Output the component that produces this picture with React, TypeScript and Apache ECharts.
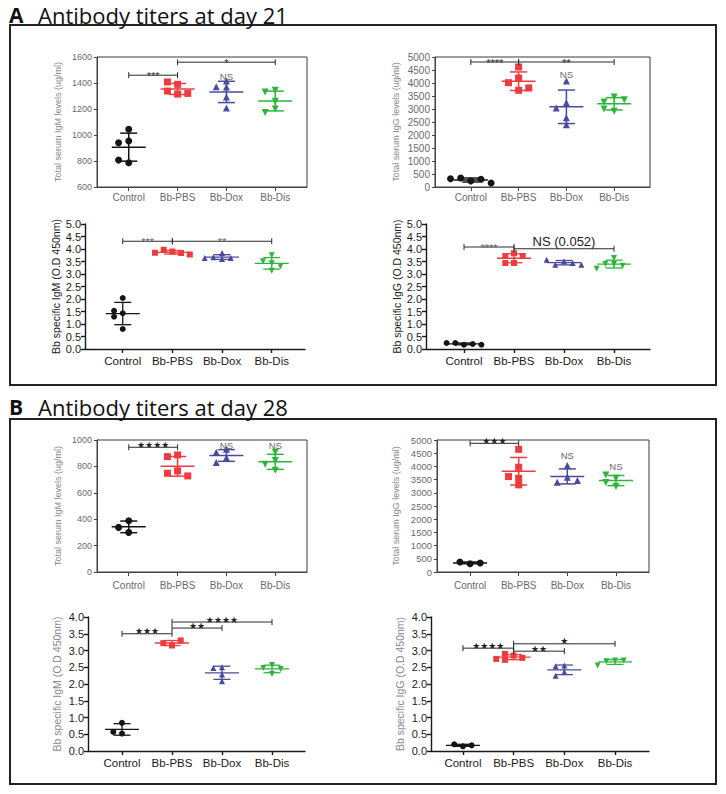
import React, { useEffect, useRef } from "react";
import * as echarts from "echarts";

const CATEGORIES = ["Control", "Bb-PBS", "Bb-Dox", "Bb-Dis"];
const GROUP_COLORS = ["#151515", "#ef3b3f", "#4a4a9e", "#2cb53a"];
const GROUP_SYMBOLS = ["circle", "rect", "triangle", "triangle"];
const GROUP_ROTATE = [0, 0, 0, 180];

// ---- Day 21 ----
const day21_totalIgM = [
  [954, 940, 1044, 787, 807],
  [1315, 1390, 1338, 1408, 1320],
  [1369, 1415, 1292, 1372, 1208],
  [1344, 1331, 1259, 1200, 1174],
];
const day21_totalIgM_sig = [
  { from: 1, to: 2, y: 1460, label: "***" },
  { from: 2, to: 4, y: 1560, label: "*" },
];
const day21_totalIgM_ns = [{ cat: 3, y: 1450, label: "NS" }];

const day21_totalIgG = [
  [230, 345, 295, 320, 155],
  [3718, 4615, 4192, 4013, 3808],
  [3244, 4077, 3038, 2667, 2397],
  [3462, 2910, 3269, 3359, 3000],
];
const day21_totalIgG_sig = [
  { from: 1, to: 2, y: 4808, label: "****" },
  { from: 2, to: 4, y: 4808, label: "**" },
];
const day21_totalIgG_ns = [{ cat: 3, y: 4330, label: "NS" }];

const day21_bbIgM = [
  [2.04, 1.43, 1.53, 1.29, 0.8],
  [3.9, 3.97, 3.84, 3.85, 3.78],
  [3.6, 3.67, 3.84, 3.64, 3.64],
  [3.75, 3.43, 3.51, 3.31, 3.13],
];
const day21_bbIgM_sig = [
  { from: 1, to: 2, y: 4.31, label: "***" },
  { from: 2, to: 4, y: 4.31, label: "**" },
];

const day21_bbIgG = [
  [0.17, 0.24, 0.2, 0.24, 0.17],
  [3.83, 3.72, 3.72, 3.44, 3.44],
  [3.51, 3.37, 3.44, 3.57, 3.37],
  [3.64, 3.4, 3.4, 3.33, 3.21],
];
const day21_bbIgG_sig = [
  { from: 1, to: 2, y: 4.08, label: "****" },
  { from: 2, to: 4, y: 4.01, label: "NS (0.052)" },
];

// ---- Day 28 ----
const day28_totalIgM = [
  [300, 388, 338],
  [887, 874, 766, 748, 728],
  [929, 866, 829, 907],
  [907, 844, 816, 771],
];
const day28_totalIgM_sig = [{ from: 1, to: 2, y: 945, label: "★★★★" }];
const day28_totalIgM_ns = [
  { cat: 3, y: 962, label: "NS" },
  { cat: 4, y: 955, label: "NS" },
];

const day28_totalIgG = [
  [315, 380, 340],
  [4647, 3967, 3552, 3615, 3300],
  [4030, 3590, 3400, 3463],
  [3237, 3552, 3678, 3388],
];
const day28_totalIgG_sig = [{ from: 1, to: 2, y: 4874, label: "★★★" }];
const day28_totalIgG_ns = [
  { cat: 3, y: 4400, label: "NS" },
  { cat: 4, y: 4000, label: "NS" },
];

const day28_bbIgM = [
  [0.84, 0.52, 0.57],
  [3.15, 3.22, 3.3],
  [2.5, 2.48, 2.28, 2.08],
  [2.57, 2.48, 2.45, 2.3],
];
const day28_bbIgM_sig = [
  { from: 1, to: 2, y: 3.5, label: "★★★" },
  { from: 2, to: 3, y: 3.67, label: "★★" },
  { from: 2, to: 4, y: 3.85, label: "★★★★" },
];

const day28_bbIgG = [
  [0.14, 0.2, 0.17],
  [2.85, 2.72, 2.78, 2.9, 2.75],
  [2.55, 2.53, 2.36, 2.25],
  [2.7, 2.68, 2.7, 2.55],
];
const day28_bbIgG_sig = [
  { from: 1, to: 2, y: 3.07, label: "★★★★" },
  { from: 2, to: 3, y: 2.98, label: "★★" },
  { from: 2, to: 4, y: 3.2, label: "★" },
];

type Sig = { from: number; to: number; y: number; label: string };
type NS = { cat: number; y: number; label: string };

const AXIS_FONT = '"Liberation Sans", Arial, sans-serif';

const PANELS = [
  { data: day21_totalIgM, sig: day21_totalIgM_sig, ns: day21_totalIgM_ns, name: "Total serum IgM levels (ug/ml)",
    left: 97, top: 57, width: 210, height: 130, xMin: 0.35, xMax: 4.65, yMin: 600, yMax: 1600, yInt: 200,
    framed: true, nameGap: 35, tickFont: 9, dec: 0, xMargin: 5, sym: 7, starGray: false },
  { data: day21_totalIgG, sig: day21_totalIgG_sig, ns: day21_totalIgG_ns, name: "Total serum IgG levels (ug/ml)",
    left: 435, top: 57, width: 215, height: 130, xMin: 0.25, xMax: 4.75, yMin: 0, yMax: 5000, yInt: 500,
    framed: true, nameGap: 35, tickFont: 10, dec: 0, xMargin: 5, sym: 7, starGray: false },
  { data: day21_bbIgM, sig: day21_bbIgM_sig, ns: [] as NS[], name: "Bb specific IgM (O.D 450nm)",
    left: 85, top: 224, width: 220, height: 125, xMin: 0.24, xMax: 4.67, yMin: 0, yMax: 5, yInt: 0.5,
    framed: false, nameGap: 22, tickFont: 11, dec: 1, xMargin: 6, sym: 6, starGray: true, darkName: true },
  { data: day21_bbIgG, sig: day21_bbIgG_sig, ns: [] as NS[], name: "Bb specific IgG (O.D 450nm)",
    left: 426, top: 224, width: 224, height: 125, xMin: 0.24, xMax: 4.72, yMin: 0, yMax: 5, yInt: 0.5,
    framed: false, nameGap: 21, tickFont: 11, dec: 1, xMargin: 6, sym: 6, starGray: true, darkName: true },
  { data: day28_totalIgM, sig: day28_totalIgM_sig, ns: day28_totalIgM_ns, name: "Total serum IgM levels (ug/ml)",
    left: 97, top: 440, width: 210, height: 132, xMin: 0.35, xMax: 4.65, yMin: 0, yMax: 1000, yInt: 200,
    framed: true, nameGap: 35, tickFont: 9, dec: 0, xMargin: 8, sym: 7, starGray: false },
  { data: day28_totalIgG, sig: day28_totalIgG_sig, ns: day28_totalIgG_ns, name: "Total serum IgG levels (ug/ml)",
    left: 437, top: 440, width: 212, height: 132, xMin: 0.32, xMax: 4.68, yMin: 0, yMax: 5000, yInt: 500,
    framed: true, nameGap: 37, tickFont: 9.5, dec: 0, xMargin: 8, sym: 7, starGray: false },
  { data: day28_bbIgM, sig: day28_bbIgM_sig, ns: [] as NS[], name: "Bb specific IgM (O.D 450nm)",
    left: 88, top: 617, width: 217, height: 134, xMin: 0.32, xMax: 4.66, yMin: 0, yMax: 4, yInt: 0.5,
    framed: false, nameGap: 26, tickFont: 11, dec: 1, xMargin: 6, sym: 6, starGray: false, darkName: false },
  { data: day28_bbIgG, sig: day28_bbIgG_sig, ns: [] as NS[], name: "Bb specific IgG (O.D 450nm)",
    left: 431, top: 617, width: 218, height: 134, xMin: 0.37, xMax: 4.67, yMin: 0, yMax: 4, yInt: 0.5,
    framed: false, nameGap: 26, tickFont: 11, dec: 1, xMargin: 6, sym: 6, starGray: false, darkName: false },
];

function meanSd(v: number[]) {
  const m = v.reduce((a, b) => a + b, 0) / v.length;
  const s = Math.sqrt(v.reduce((a, b) => a + (b - m) * (b - m), 0) / (v.length - 1));
  return [m, s];
}

// simple beeswarm: offsets in pixels
function swarm(vals: number[], pxPerY: number, step: number, thr: number) {
  const placed: { x: number; y: number }[] = [];
  const cands = [0, -step, step, -2 * step, 2 * step, -3 * step, 3 * step];
  return vals.map((v) => {
    const y = v * pxPerY;
    for (const c of cands) {
      if (placed.every((p) => Math.abs(p.x - c) >= step * 0.9 || Math.abs(p.y - y) >= thr)) {
        placed.push({ x: c, y });
        return c;
      }
    }
    placed.push({ x: 0, y });
    return 0;
  });
}

function buildOption() {
  const grid: any[] = [];
  const xAxis: any[] = [];
  const yAxis: any[] = [];
  const series: any[] = [];

  PANELS.forEach((p, i) => {
    const axisColor = p.framed ? "#444" : "#1a1a1a";
    const labelColor = p.framed ? "#6a6a6a" : "#1a1a1a";
    grid.push({
      left: p.left, top: p.top, width: p.width, height: p.height,
      show: p.framed, borderColor: "#3a3a3a", borderWidth: 1, backgroundColor: "transparent",
    });
    xAxis.push({
      gridIndex: i, type: "value", min: p.xMin, max: p.xMax,
      axisLine: { show: true, onZero: false, lineStyle: { color: axisColor, width: p.framed ? 1 : 1.4 } },
      axisTick: { show: true, customValues: [1, 2, 3, 4], length: 4, lineStyle: { color: axisColor, width: p.framed ? 1 : 1.4 } },
      axisLabel: {
        customValues: [1, 2, 3, 4],
        formatter: (v: number) => CATEGORIES[Math.round(v) - 1] ?? "",
        color: labelColor, fontSize: p.framed ? 10 : 11.5, fontFamily: AXIS_FONT, margin: p.xMargin,
      },
      splitLine: { show: false },
    });
    yAxis.push({
      gridIndex: i, type: "value", min: p.yMin, max: p.yMax, interval: p.yInt,
      axisLine: { show: true, onZero: false, lineStyle: { color: axisColor, width: p.framed ? 1 : 1.4 } },
      axisTick: { show: true, length: p.framed ? 3 : 4, lineStyle: { color: axisColor, width: p.framed ? 1 : 1.4 } },
      axisLabel: {
        formatter: (v: number) => (p.dec ? v.toFixed(1) : String(v)),
        color: labelColor, fontSize: p.tickFont, fontFamily: AXIS_FONT, margin: p.framed ? 5 : 4,
      },
      splitLine: { show: false },
      name: p.name, nameLocation: "middle", nameGap: p.nameGap,
      nameTextStyle: {
        fontSize: p.framed ? 9 : 10.5, fontFamily: AXIS_FONT,
        color: p.framed ? "#8a8a8a" : (p as any).darkName ? "#1a1a1a" : "#8a8a8a",
      },
    });

    const pxPerY = p.height / (p.yMax - p.yMin);
    const pxPerX = p.width / (p.xMax - p.xMin);
    const step = p.sym * 1.45;

    p.data.forEach((vals, g) => {
      const offs = swarm(vals, pxPerY, step, p.sym * 0.85);
      series.push({
        type: "scatter", xAxisIndex: i, yAxisIndex: i, silent: true, z: 4,
        symbol: GROUP_SYMBOLS[g], symbolRotate: GROUP_ROTATE[g], symbolSize: p.sym,
        itemStyle: { color: GROUP_COLORS[g], opacity: 1 },
        data: vals.map((v, k) => [g + 1 + offs[k] / pxPerX, v]),
      });
    });

    const stats = p.data.map((vals, g) => {
      const [m, s] = meanSd(vals);
      return [g + 1, m, s];
    });
    const lw = p.framed ? 1.5 : 1.3;
    series.push({
      type: "custom", xAxisIndex: i, yAxisIndex: i, silent: true, z: 3,
      data: stats,
      renderItem: (params: any, api: any) => {
        const x = api.value(0), m = api.value(1), s = api.value(2);
        const c = api.coord([x, m]);
        const t = api.coord([x, m + s]);
        const b = api.coord([x, m - s]);
        const col = GROUP_COLORS[params.dataIndex];
        const w = 17, cw = 8.5;
        const st = { stroke: col, lineWidth: lw };
        return {
          type: "group",
          children: [
            { type: "line", shape: { x1: c[0] - w, y1: c[1], x2: c[0] + w, y2: c[1] }, style: st },
            { type: "line", shape: { x1: c[0], y1: t[1], x2: c[0], y2: b[1] }, style: st },
            { type: "line", shape: { x1: c[0] - cw, y1: t[1], x2: c[0] + cw, y2: t[1] }, style: st },
            { type: "line", shape: { x1: c[0] - cw, y1: b[1], x2: c[0] + cw, y2: b[1] }, style: st },
          ],
        };
      },
    });

    const sigs: Sig[] = p.sig;
    series.push({
      type: "custom", xAxisIndex: i, yAxisIndex: i, silent: true, z: 5,
      data: sigs.map((s) => [s.from, s.to, s.y]),
      renderItem: (params: any, api: any) => {
        const s = sigs[params.dataIndex];
        const a = api.coord([api.value(0), api.value(2)]);
        const b = api.coord([api.value(1), api.value(2)]);
        const y = a[1];
        const ls = { stroke: "#2a2a2a", lineWidth: 1 };
        const isStar = s.label.indexOf("★") >= 0;
        const isNS = s.label.indexOf("NS") >= 0;
        const text = isNS
          ? { text: s.label, x: (a[0] + b[0]) / 2, y: y - 7, textAlign: "center", textVerticalAlign: "middle",
              fill: "#1a1a1a", fontSize: 13, fontFamily: AXIS_FONT }
          : isStar
          ? { text: s.label, x: (a[0] + b[0]) / 2, y: y - 2.5, textAlign: "center", textVerticalAlign: "middle",
              fill: "#222", fontSize: 9, fontFamily: '"DejaVu Sans", sans-serif' }
          : { text: s.label, x: (a[0] + b[0]) / 2, y: y + 1, textAlign: "center", textVerticalAlign: "middle",
              fill: p.starGray ? "#666" : "#333", fontSize: 11, fontFamily: AXIS_FONT };
        return {
          type: "group",
          children: [
            { type: "line", shape: { x1: a[0], y1: y, x2: b[0], y2: y }, style: ls },
            { type: "line", shape: { x1: a[0], y1: y - 3, x2: a[0], y2: y + 3 }, style: ls },
            { type: "line", shape: { x1: b[0], y1: y - 3, x2: b[0], y2: y + 3 }, style: ls },
            { type: "text", style: text },
          ],
        };
      },
    });

    const nss: NS[] = p.ns;
    if (nss.length) {
      series.push({
        type: "custom", xAxisIndex: i, yAxisIndex: i, silent: true, z: 5,
        data: nss.map((n) => [n.cat, n.y]),
        renderItem: (params: any, api: any) => {
          const n = nss[params.dataIndex];
          const c = api.coord([api.value(0), api.value(1)]);
          return {
            type: "text",
            style: { text: n.label, x: c[0], y: c[1], textAlign: "center", textVerticalAlign: "middle",
              fill: "#666", fontSize: 9.5, fontFamily: AXIS_FONT },
          };
        },
      });
    }
  });

  const titleFont = '"Open Sans", "Noto Sans", sans-serif';
  const graphic = [
    { type: "rect", shape: { x: 10, y: 25, width: 706, height: 360 }, style: { fill: "none", stroke: "#222", lineWidth: 2 } },
    { type: "rect", shape: { x: 10, y: 419, width: 706, height: 365 }, style: { fill: "none", stroke: "#222", lineWidth: 2 } },
    { type: "text", x: 9, y: 15, style: { text: "A", font: `bold 21px ${titleFont}`, fill: "#111", textVerticalAlign: "middle" } },
    { type: "text", x: 38, y: 15, style: { text: "Antibody titers at day 21", font: `22px ${titleFont}`, fill: "#111", textVerticalAlign: "middle" } },
    { type: "text", x: 9, y: 407, style: { text: "B", font: `bold 21px ${titleFont}`, fill: "#111", textVerticalAlign: "middle" } },
    { type: "text", x: 38, y: 407, style: { text: "Antibody titers at day 28", font: `22px ${titleFont}`, fill: "#111", textVerticalAlign: "middle" } },
  ];

  return { animation: false, backgroundColor: "#ffffff", grid, xAxis, yAxis, series, graphic };
}

export default function App() {
  const ref = useRef<HTMLDivElement>(null);
  useEffect(() => {
    if (!ref.current) return;
    const chart = echarts.init(ref.current, undefined, { renderer: "svg" });
    chart.setOption(buildOption() as any);
    return () => chart.dispose();
  }, []);
  return <div ref={ref} style={{ position: "absolute", left: 0, top: 0, width: 726, height: 794 }} />;
}
